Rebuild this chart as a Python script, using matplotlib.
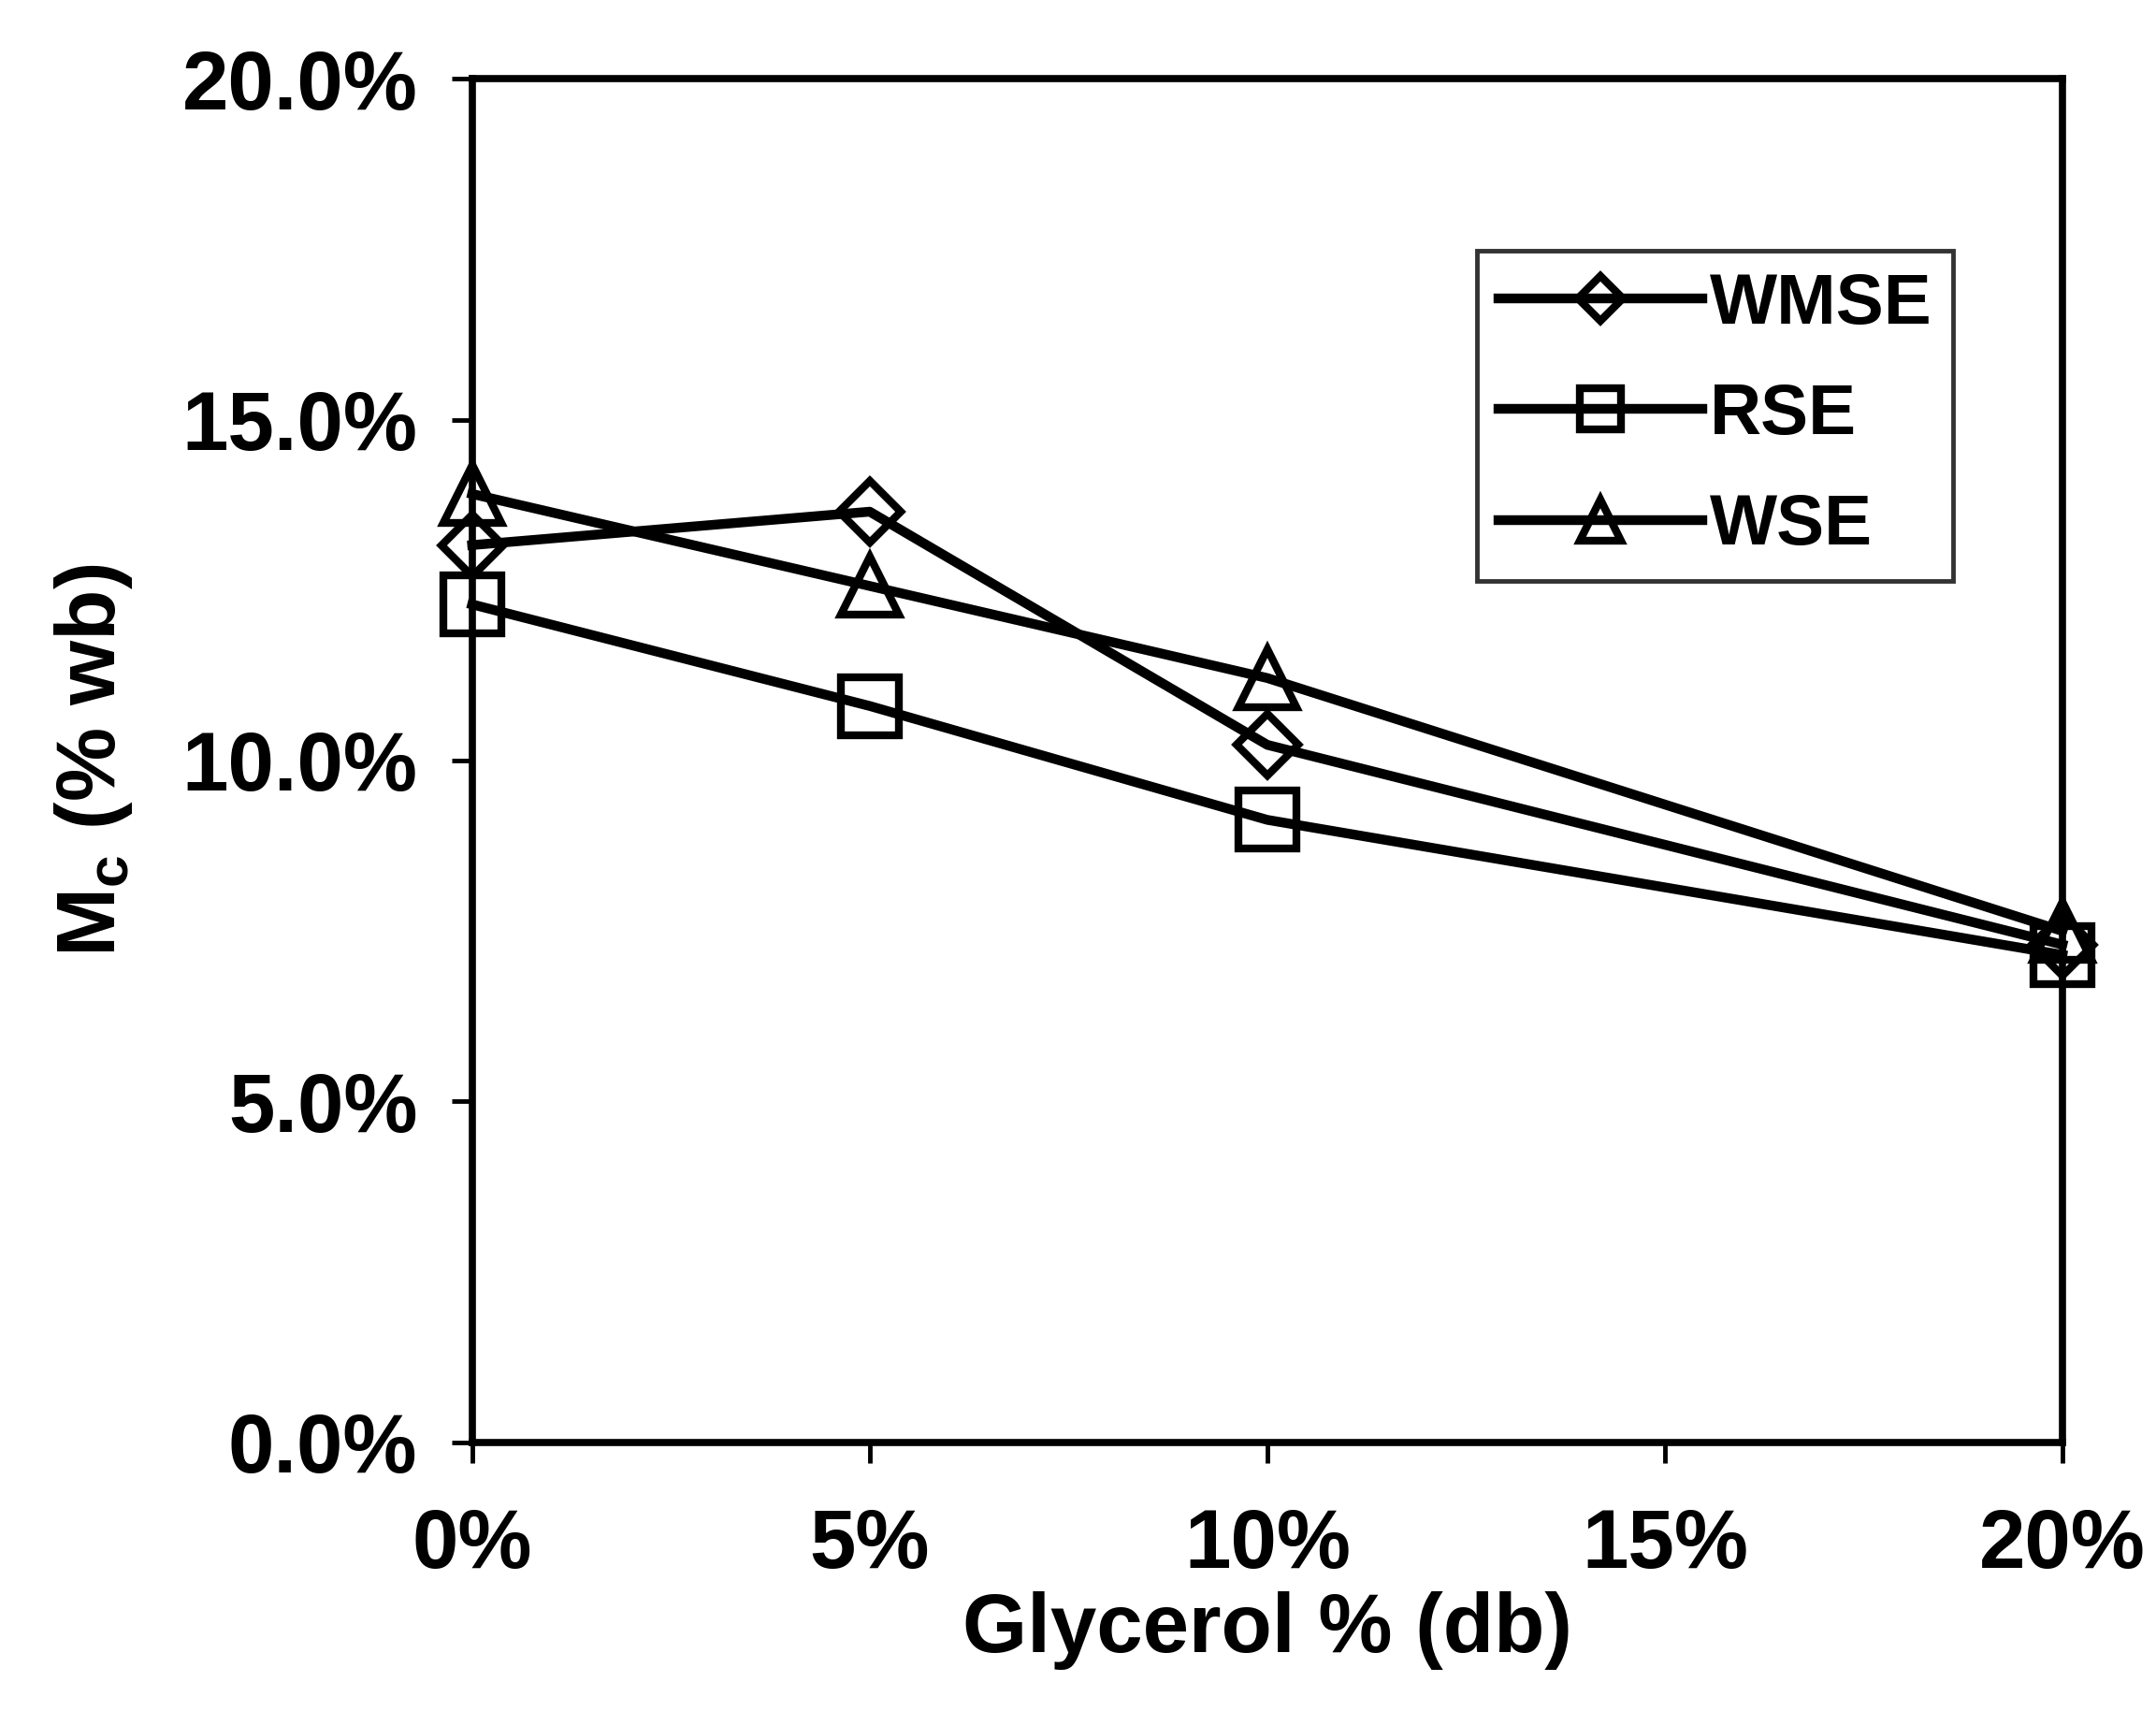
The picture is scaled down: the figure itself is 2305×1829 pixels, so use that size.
import matplotlib
matplotlib.use("Agg")
import matplotlib.pyplot as plt
from matplotlib.ticker import FuncFormatter, MultipleLocator

# Glycerol content (% dry basis) and equilibrium moisture content (% wet basis)
glycerol = [0, 5, 10, 20]
wmse = [13.16, 13.65, 10.23, 7.30]
rse = [12.29, 10.80, 9.13, 7.15]
wse = [13.91, 12.56, 11.21, 7.50]

series_names = ["WMSE", "RSE", "WSE"]
series_markers = ["D", "s", "^"]

plt.rcParams["font.family"] = ["Liberation Sans", "DejaVu Sans"]
plt.rcParams["font.weight"] = "bold"
plt.rcParams["mathtext.fontset"] = "custom"
plt.rcParams["mathtext.rm"] = "Liberation Sans:bold"
plt.rcParams["mathtext.bf"] = "Liberation Sans:bold"
plt.rcParams["mathtext.it"] = "Liberation Sans:bold"

fig = plt.figure(figsize=(23.05, 18.29), dpi=100)
ax = fig.add_axes([0.219, 0.157, 0.7376, 0.797])

marker_sizes = {"D": 34, "s": 44, "^": 44}
for name, marker, values in zip(series_names, series_markers, [wmse, rse, wse]):
    ax.plot(glycerol, values, color="black", linewidth=7.5,
            marker=marker, markersize=marker_sizes[marker],
            markerfacecolor="none", markeredgecolor="black",
            markeredgewidth=6, label=name, clip_on=False, zorder=3)

ax.set_xlim(0, 20)
ax.set_ylim(0, 20)
ax.xaxis.set_major_locator(MultipleLocator(5))
ax.yaxis.set_major_locator(MultipleLocator(5))
ax.xaxis.set_major_formatter(FuncFormatter(lambda v, p: f"{v:.0f}%"))
ax.yaxis.set_major_formatter(FuncFormatter(lambda v, p: f"{v:.1f}%"))

for side in ["left", "right", "top", "bottom"]:
    ax.spines[side].set_linewidth(5.5)
    ax.spines[side].set_color("black")

ax.tick_params(axis="both", which="major", direction="out", length=16,
               width=3.5, labelsize=64, color="black")
ax.tick_params(axis="y", pad=26)
ax.tick_params(axis="x", pad=34)
ax.tick_params(top=False, right=False)
for lab in ax.get_xticklabels() + ax.get_yticklabels():
    lab.set_fontweight("bold")

ax.set_xlabel("Glycerol % (db)", fontsize=64, fontweight="bold", labelpad=4)
ax.set_ylabel(r"M$_\mathregular{c}$ (% wb)", fontsize=64, fontweight="bold",
              labelpad=36)

leg = ax.legend(loc="upper left", bbox_to_anchor=(0.632, 0.874),
                fontsize=55, frameon=True, fancybox=False,
                handlelength=2.85, handletextpad=0.1, labelspacing=0.62,
                borderpad=0.3, borderaxespad=0, markerscale=0.72)
frame = leg.get_frame()
frame.set_edgecolor("black")
frame.set_linewidth(3.5)
for txt in leg.get_texts():
    txt.set_fontweight("bold")

fig.savefig("out.png", dpi=100, facecolor="white")
